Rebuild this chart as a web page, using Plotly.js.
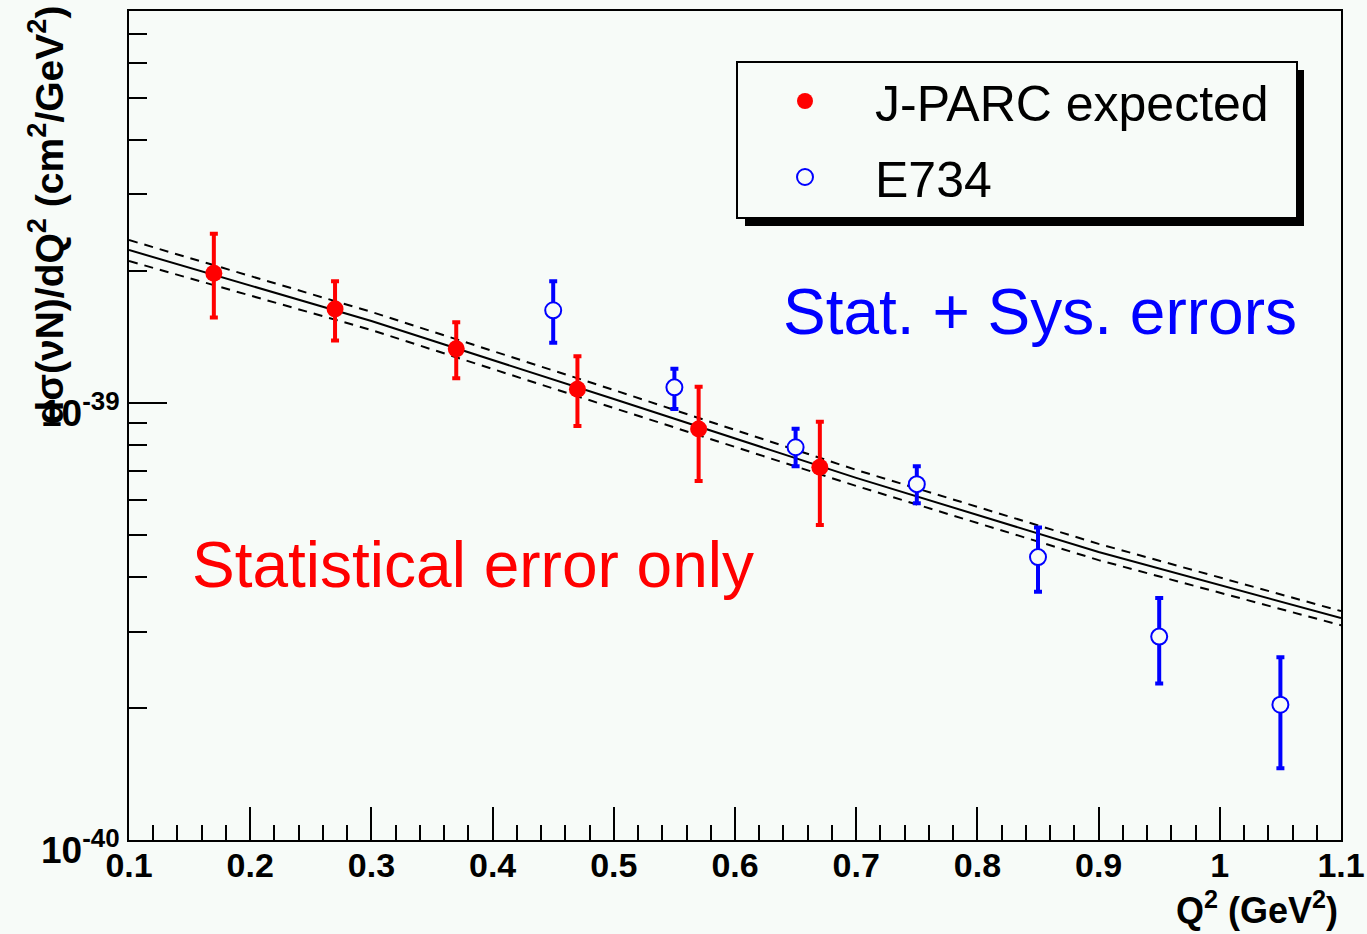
<!DOCTYPE html>
<html>
<head>
<meta charset="utf-8">
<script src="https://cdn.plot.ly/plotly-3.0.1.min.js"></script>
<style>
  html, body { margin: 0; padding: 0; background: #f7fbf8; }
  #chart { width: 1367px; height: 934px; }
</style>
</head>
<body>
<div id="chart"></div>
<script>
// ---- Data ----
const jparcQ2   = [0.17, 0.27, 0.37, 0.47, 0.57, 0.67];
const jparcXsec = [1.98e-39, 1.64e-39, 1.33e-39, 1.075e-39, 8.72e-40, 7.13e-40];
const jparcHigh = [2.44e-39, 1.90e-39, 1.53e-39, 1.28e-39, 1.09e-39, 9.06e-40];
const jparcLow  = [1.57e-39, 1.39e-39, 1.14e-39, 8.86e-40, 6.63e-40, 5.26e-40];

const e734Q2    = [0.45, 0.55, 0.65, 0.75, 0.85, 0.95, 1.05];
const e734Xsec  = [1.63e-39, 1.086e-39, 7.92e-40, 6.52e-40, 4.44e-40, 2.92e-40, 2.04e-40];
const e734High  = [1.90e-39, 1.198e-39, 8.73e-40, 7.17e-40, 5.19e-40, 3.58e-40, 2.62e-40];
const e734Low   = [1.374e-39, 9.69e-40, 7.17e-40, 5.90e-40, 3.70e-40, 2.28e-40, 1.46e-40];

const curveQ2     = [0.1, 0.3, 0.5, 0.7, 0.9, 1.1];
const curveCentral = [2.239e-39, 1.540e-39, 1.021e-39, 6.74e-40, 4.56e-40, 3.22e-40];
const curveUpper   = [2.360e-39, 1.616e-39, 1.071e-39, 7.03e-40, 4.76e-40, 3.34e-40];
const curveLower   = [2.113e-39, 1.469e-39, 9.74e-40, 6.46e-40, 4.37e-40, 3.10e-40];

const xTickVals  = [0.1, 0.2, 0.3, 0.4, 0.5, 0.6, 0.7, 0.8, 0.9, 1.0, 1.1];
const xTickText  = ['0.1', '0.2', '0.3', '0.4', '0.5', '0.6', '0.7', '0.8', '0.9', '1', '1.1'];
const yTickVals  = [1e-40, 1e-39];
const yTickText  = ['10<sup>-40</sup>', '10<sup>-39</sup>'];
const yMinorVals = [2e-40, 3e-40, 4e-40, 5e-40, 6e-40, 7e-40, 8e-40, 9e-40,
                    2e-39, 3e-39, 4e-39, 5e-39, 6e-39, 7e-39];

const legendNames = ['J-PARC expected', 'E734'];
const yTitleText = 'dσ(νN)/dQ<sup>2</sup> (cm<sup>2</sup>/GeV<sup>2</sup>)';
const xTitleText = 'Q<sup>2</sup> (GeV<sup>2</sup>)';
const redLabel  = 'Statistical error only';
const blueLabel = 'Stat. + Sys. errors';

// ---- Layout geometry ----
const W = 1367, H = 934;
const M = { l: 129, r: 26, t: 11, b: 94 };
const PW = W - M.l - M.r, PH = H - M.t - M.b;
const fx = px => (px - M.l) / PW;
const fy = py => (H - M.b - py) / PH;
const BG = '#f7fbf8';
const FONT = 'Liberation Sans, Arial, Helvetica, sans-serif';

const diff = (a, b) => a.map((v, i) => Math.abs(v - b[i]));

const traces = [
  { x: curveQ2, y: curveUpper, mode: 'lines', showlegend: false, hoverinfo: 'skip',
    line: { color: '#000', width: 2, dash: '9px,7px' } },
  { x: curveQ2, y: curveLower, mode: 'lines', showlegend: false, hoverinfo: 'skip',
    line: { color: '#000', width: 2, dash: '9px,7px' } },
  { x: curveQ2, y: curveCentral, mode: 'lines', showlegend: false, hoverinfo: 'skip',
    line: { color: '#000', width: 2 } },
  { x: jparcQ2, y: jparcXsec, name: legendNames[0], mode: 'markers', legendgroup: 'a',
    marker: { color: '#ff0000', size: 17, symbol: 'circle' },
    error_y: { type: 'data', symmetric: false,
      array: diff(jparcHigh, jparcXsec), arrayminus: diff(jparcXsec, jparcLow),
      color: '#ff0000', thickness: 4, width: 4 } },
  { x: e734Q2, y: e734Xsec, name: legendNames[1], mode: 'markers', legendgroup: 'b',
    marker: { color: BG, size: 16, symbol: 'circle', line: { color: '#0000ff', width: 2 } },
    error_y: { type: 'data', symmetric: false,
      array: diff(e734High, e734Xsec), arrayminus: diff(e734Xsec, e734Low),
      color: '#0000ff', thickness: 4, width: 4 } }
];

const layout = {
  width: W, height: H,
  margin: M,
  paper_bgcolor: BG, plot_bgcolor: BG,
  font: { family: FONT, color: '#000' },
  showlegend: true,
  legend: {
    x: fx(735), y: fy(62), xanchor: 'left', yanchor: 'top',
    bgcolor: 'rgba(0,0,0,0)', borderwidth: 0,
    font: { family: FONT, size: 50, color: '#000' },
    itemwidth: 130, tracegroupgap: 8, traceorder: 'grouped'
  },
  xaxis: {
    range: [0.1, 1.1], showgrid: false, zeroline: false,
    showline: true, mirror: true, linecolor: '#000', linewidth: 2,
    ticks: 'inside', ticklen: 33, tickwidth: 2, tickcolor: '#000',
    tickmode: 'array', tickvals: xTickVals, ticktext: xTickText,
    ticklabelstandoff: -6,
    tickfont: { family: FONT, size: 34, weight: 'bold', color: '#000' },
    minor: { dtick: 0.02, tick0: 0.1, ticks: 'inside', ticklen: 15, tickwidth: 2, tickcolor: '#000', showgrid: false }
  },
  yaxis: {
    type: 'log', range: [-40, -38.103], showgrid: false, zeroline: false,
    showline: true, mirror: true, linecolor: '#000', linewidth: 2,
    ticks: 'inside', ticklen: 38, tickwidth: 2, tickcolor: '#000',
    tickmode: 'array', tickvals: yTickVals, ticktext: yTickText,
    ticklabelshift: 10,
    tickfont: { family: FONT, size: 37, weight: 'bold', color: '#000' },
    minor: { tickmode: 'array', tickvals: yMinorVals, ticks: 'inside', ticklen: 18, tickwidth: 2, tickcolor: '#000', showgrid: false }
  },
  shapes: [
    { type: 'rect', xref: 'paper', yref: 'paper', layer: 'above',
      x0: fx(745), x1: fx(1304), y0: fy(226), y1: fy(70),
      fillcolor: '#000', line: { width: 0 } },
    { type: 'rect', xref: 'paper', yref: 'paper', layer: 'above',
      x0: fx(737), x1: fx(1297), y0: fy(218), y1: fy(62),
      fillcolor: BG, line: { color: '#000', width: 2 } }
  ],
  annotations: [
    { text: yTitleText, xref: 'paper', yref: 'paper', x: fx(46), y: fy(4),
      xanchor: 'center', yanchor: 'top', textangle: -90, showarrow: false,
      font: { family: FONT, size: 39, weight: 'bold', color: '#000' } },
    { text: xTitleText, xref: 'paper', yref: 'paper', x: fx(1340), y: fy(908),
      xanchor: 'right', yanchor: 'middle', showarrow: false,
      font: { family: FONT, size: 36, weight: 'bold', color: '#000' } },
    { text: redLabel, xref: 'paper', yref: 'paper', x: fx(190), y: fy(565),
      xanchor: 'left', yanchor: 'middle', showarrow: false,
      font: { family: FONT, size: 64, color: '#ff0000' } },
    { text: blueLabel, xref: 'paper', yref: 'paper', x: fx(781), y: fy(312),
      xanchor: 'left', yanchor: 'middle', showarrow: false,
      font: { family: FONT, size: 64, color: '#0000ff' } }
  ]
};

Plotly.newPlot('chart', traces, layout, { displayModeBar: false, staticPlot: true });
</script>
</body>
</html>
